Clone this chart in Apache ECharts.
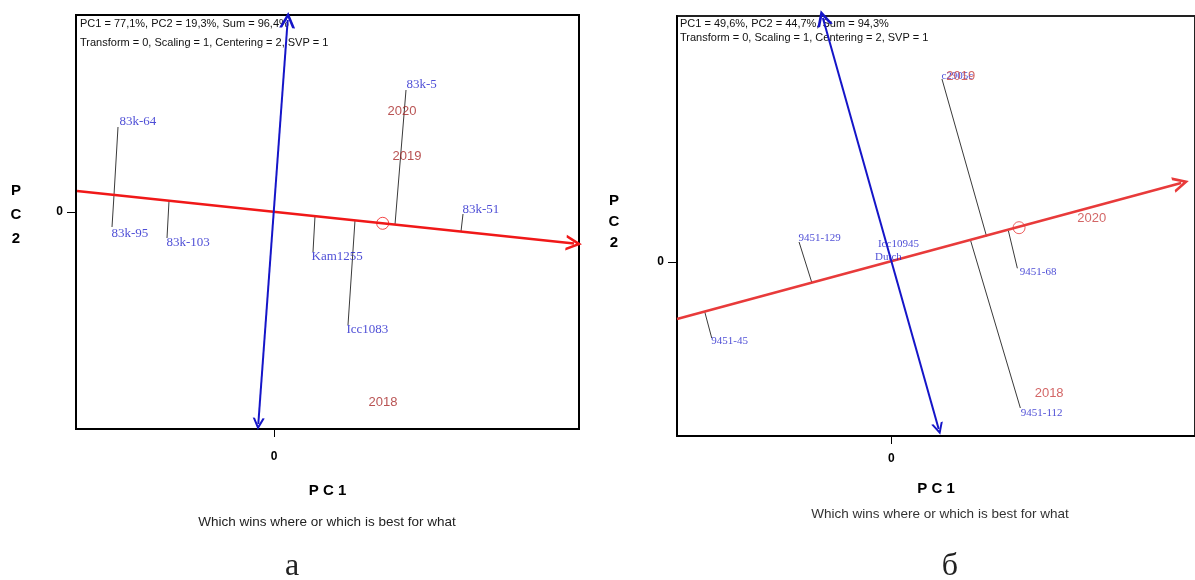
<!DOCTYPE html>
<html>
<head>
<meta charset="utf-8">
<script src="https://cdn.jsdelivr.net/npm/echarts@6/dist/echarts.min.js"></script>
<style>
html, body { margin: 0; padding: 0; background: #fff; }
#main { width: 1195px; height: 580px; }
</style>
</head>
<body>
<div id="main"></div>
<script>
// panel a
var genoNamesA = ['83k-5', '83k-64', '83k-95', '83k-103', 'Kam1255', 'Icc1083', '83k-51'];
var genoLabelA = [[1.32, 1.27], [-1.55, 0.9], [-1.63, -0.22], [-1.08, -0.31], [0.37, -0.45], [0.72, -1.18], [1.88, 0.02]];
var genoPointA = [[1.32, 1.22], [-1.56, 0.85], [-1.62, -0.15], [-1.07, -0.26], [0.39, -0.4], [0.74, -1.13], [1.89, -0.02]];
var genoFootA = [[1.21, -0.125], [-1.6, 0.17], [-1.6, 0.17], [-1.05, 0.11], [0.41, -0.041], [0.81, -0.083], [1.87, -0.194]];
var envNamesA = ['2020', '2019', '2018'];
var envPosA = [[1.28, 1.01], [1.33, 0.56], [1.09, -1.9]];
var aecXA = [[-1.97, 0.21], [3.0, -0.315]];
var aecYA = [[-0.157, -2.12], [0.137, 1.92]];
var meanA = [1.087, -0.113];
var statsA = ['PC1 = 77,1%, PC2 = 19,3%, Sum = 96,4%', 'Transform = 0, Scaling = 1, Centering = 2, SVP = 1'];

// panel б
var genoNamesB = ['c2905c', '9451-129', 'Icc10945', 'Dutch', '9451-68', '9451-45', '9451-112'];
var genoLabelB = [[0.5, 1.86], [-0.94, 0.24], [-0.14, 0.18], [-0.17, 0.05], [1.29, -0.1], [-1.82, -0.79], [1.3, -1.51]];
var genoPointB = [[0.51, 1.83], [-0.93, 0.2], null, null, [1.27, -0.063], [-1.81, -0.76], [1.3, -1.46]];
var genoFootB = [[0.96, 0.255], [-0.8, -0.21], null, null, [1.18, 0.31], [-1.88, -0.5], [0.8, 0.21]];
var envNamesB = ['2019', '2020', '2018'];
var envPosB = [[0.7, 1.86], [2.02, 0.44], [1.59, -1.31]];
var aecXB = [[-2.16, -0.57], [2.92, 0.79]];
var aecYB = [[0.477, -1.67], [-0.69, 2.44]];
var meanB = [1.287, 0.343];
var statsB = ['PC1 = 49,6%, PC2 = 44,7%, Sum = 94,3%', 'Transform = 0, Scaling = 1, Centering = 2, SVP = 1'];

var arrowV = 'path://M0,0 L-6,15 L-3.8,15 L0,5.5 L3.8,15 L6,15 Z';

function makeSeries(idx, names, labelPos, points, feet, envNames, envPos, aecX, aecY, mean, genoSize, redColor, envColor) {
    var proj = [];
    for (var i = 0; i < points.length; i++) {
        if (points[i] && feet[i]) {
            proj.push({ coords: [points[i], feet[i]] });
        }
    }
    var geno = [];
    for (i = 0; i < names.length; i++) {
        geno.push({ name: names[i], value: labelPos[i] });
    }
    var env = [];
    for (i = 0; i < envNames.length; i++) {
        env.push({ name: envNames[i], value: envPos[i] });
    }
    return [{
        type: 'lines',
        coordinateSystem: 'cartesian2d',
        xAxisIndex: idx,
        yAxisIndex: idx,
        clip: false,
        silent: true,
        lineStyle: { color: '#3a3a3a', width: 1, opacity: 1 },
        data: proj
    }, {
        type: 'lines',
        coordinateSystem: 'cartesian2d',
        xAxisIndex: idx,
        yAxisIndex: idx,
        clip: false,
        silent: true,
        symbol: ['none', arrowV],
        symbolSize: [12, 16],
        lineStyle: { color: redColor, width: 2.5, opacity: 1 },
        data: [{ coords: aecX }]
    }, {
        type: 'lines',
        coordinateSystem: 'cartesian2d',
        xAxisIndex: idx,
        yAxisIndex: idx,
        clip: false,
        silent: true,
        symbol: [arrowV, arrowV],
        symbolSize: [12, 16],
        lineStyle: { color: '#1515c8', width: 2, opacity: 1 },
        data: [{ coords: aecY }]
    }, {
        type: 'scatter',
        xAxisIndex: idx,
        yAxisIndex: idx,
        silent: true,
        symbol: 'circle',
        symbolSize: 12,
        itemStyle: { color: 'rgba(0,0,0,0)', borderColor: redColor, borderWidth: 1 },
        data: [mean]
    }, {
        type: 'scatter',
        xAxisIndex: idx,
        yAxisIndex: idx,
        silent: true,
        symbolSize: 1,
        itemStyle: { color: 'rgba(0,0,0,0)' },
        label: {
            show: true,
            position: 'right',
            distance: 0,
            formatter: '{b}',
            color: '#2222cc',
            fontFamily: 'Liberation Serif',
            fontSize: genoSize
        },
        data: geno
    }, {
        type: 'scatter',
        xAxisIndex: idx,
        yAxisIndex: idx,
        silent: true,
        symbolSize: 1,
        itemStyle: { color: 'rgba(0,0,0,0)' },
        label: {
            show: true,
            position: 'inside',
            formatter: '{b}',
            color: envColor,
            fontFamily: 'Liberation Sans',
            fontSize: 13
        },
        data: env
    }];
}

function makeX(idx, min, max, gap, labelMargin) {
    return {
        gridIndex: idx,
        type: 'value',
        min: min,
        max: max,
        splitLine: { show: false },
        axisLine: { show: true, onZero: false, lineStyle: { color: '#000', width: 2 } },
        axisTick: { show: true, customValues: [0], length: 8, lineStyle: { color: '#000', width: 1 } },
        axisLabel: { customValues: [0], margin: labelMargin, color: '#000', fontWeight: 'bold', fontSize: 12, fontFamily: 'Liberation Sans' },
        name: 'P C 1',
        nameLocation: 'middle',
        nameGap: gap,
        nameTextStyle: { color: '#000', fontWeight: 'bold', fontSize: 15, fontFamily: 'Liberation Sans' }
    };
}

function makeY(idx, min, max) {
    return {
        gridIndex: idx,
        type: 'value',
        min: min,
        max: max,
        splitLine: { show: false },
        axisLine: { show: true, onZero: false, lineStyle: { color: '#000', width: 2 } },
        axisTick: { show: true, customValues: [0], length: 9, lineStyle: { color: '#000', width: 1 } },
        axisLabel: { customValues: [0], margin: 13, color: '#000', fontWeight: 'bold', fontSize: 12, fontFamily: 'Liberation Sans' }
    };
}

function statText(x, y, str) {
    return {
        type: 'text', x: x, y: y,
        style: { text: str, fill: '#111', font: '11px "Liberation Sans"', textVerticalAlign: 'middle' }
    };
}

function centerText(x, y, str, font, fill, lineHeight) {
    return {
        type: 'text', x: x, y: y,
        style: { text: str, fill: fill, font: font, lineHeight: lineHeight, textAlign: 'center', textVerticalAlign: 'middle' }
    };
}

var chart = echarts.init(document.getElementById('main'));

var option = {
    backgroundColor: '#fff',
    animation: false,
    grid: [
        { left: 76, top: 15, width: 503, height: 414, show: true, borderColor: '#000', borderWidth: 2, backgroundColor: 'rgba(0,0,0,0)' },
        { left: 677, top: 16, width: 522, height: 420, show: true, borderColor: '#222', borderWidth: 2, backgroundColor: 'rgba(0,0,0,0)' }
    ],
    xAxis: [makeX(0, -1.98, 3.05, 54, 22), makeX(1, -2.16, 3.06, 45, 17)],
    yAxis: [makeY(0, -2.17, 1.97), makeY(1, -1.74, 2.46)],
    series: makeSeries(0, genoNamesA, genoLabelA, genoPointA, genoFootA, envNamesA, envPosA, aecXA, aecYA, meanA, 13, '#f01818', '#a82828')
        .concat(makeSeries(1, genoNamesB, genoLabelB, genoPointB, genoFootB, envNamesB, envPosB, aecXB, aecYB, meanB, 11, '#e83a3a', '#c84040')),
    graphic: [
        statText(80, 24, statsA[0]),
        statText(80, 43, statsA[1]),
        statText(680, 24, statsB[0]),
        statText(680, 38, statsB[1]),
        centerText(16, 215, 'P\nC\n2', 'bold 15px "Liberation Sans"', '#000', 24),
        centerText(614, 222, 'P\nC\n2', 'bold 15px "Liberation Sans"', '#000', 21),
        centerText(327, 522, 'Which wins where or which is best for what', '13.5px "Liberation Sans"', '#222'),
        centerText(940, 514, 'Which wins where or which is best for what', '13.5px "Liberation Sans"', '#333'),
        centerText(292, 567, 'а', '32px "Liberation Serif"', '#222'),
        centerText(950, 567, 'б', '32px "Liberation Serif"', '#222')
    ]
};

chart.setOption(option);
</script>
</body>
</html>
